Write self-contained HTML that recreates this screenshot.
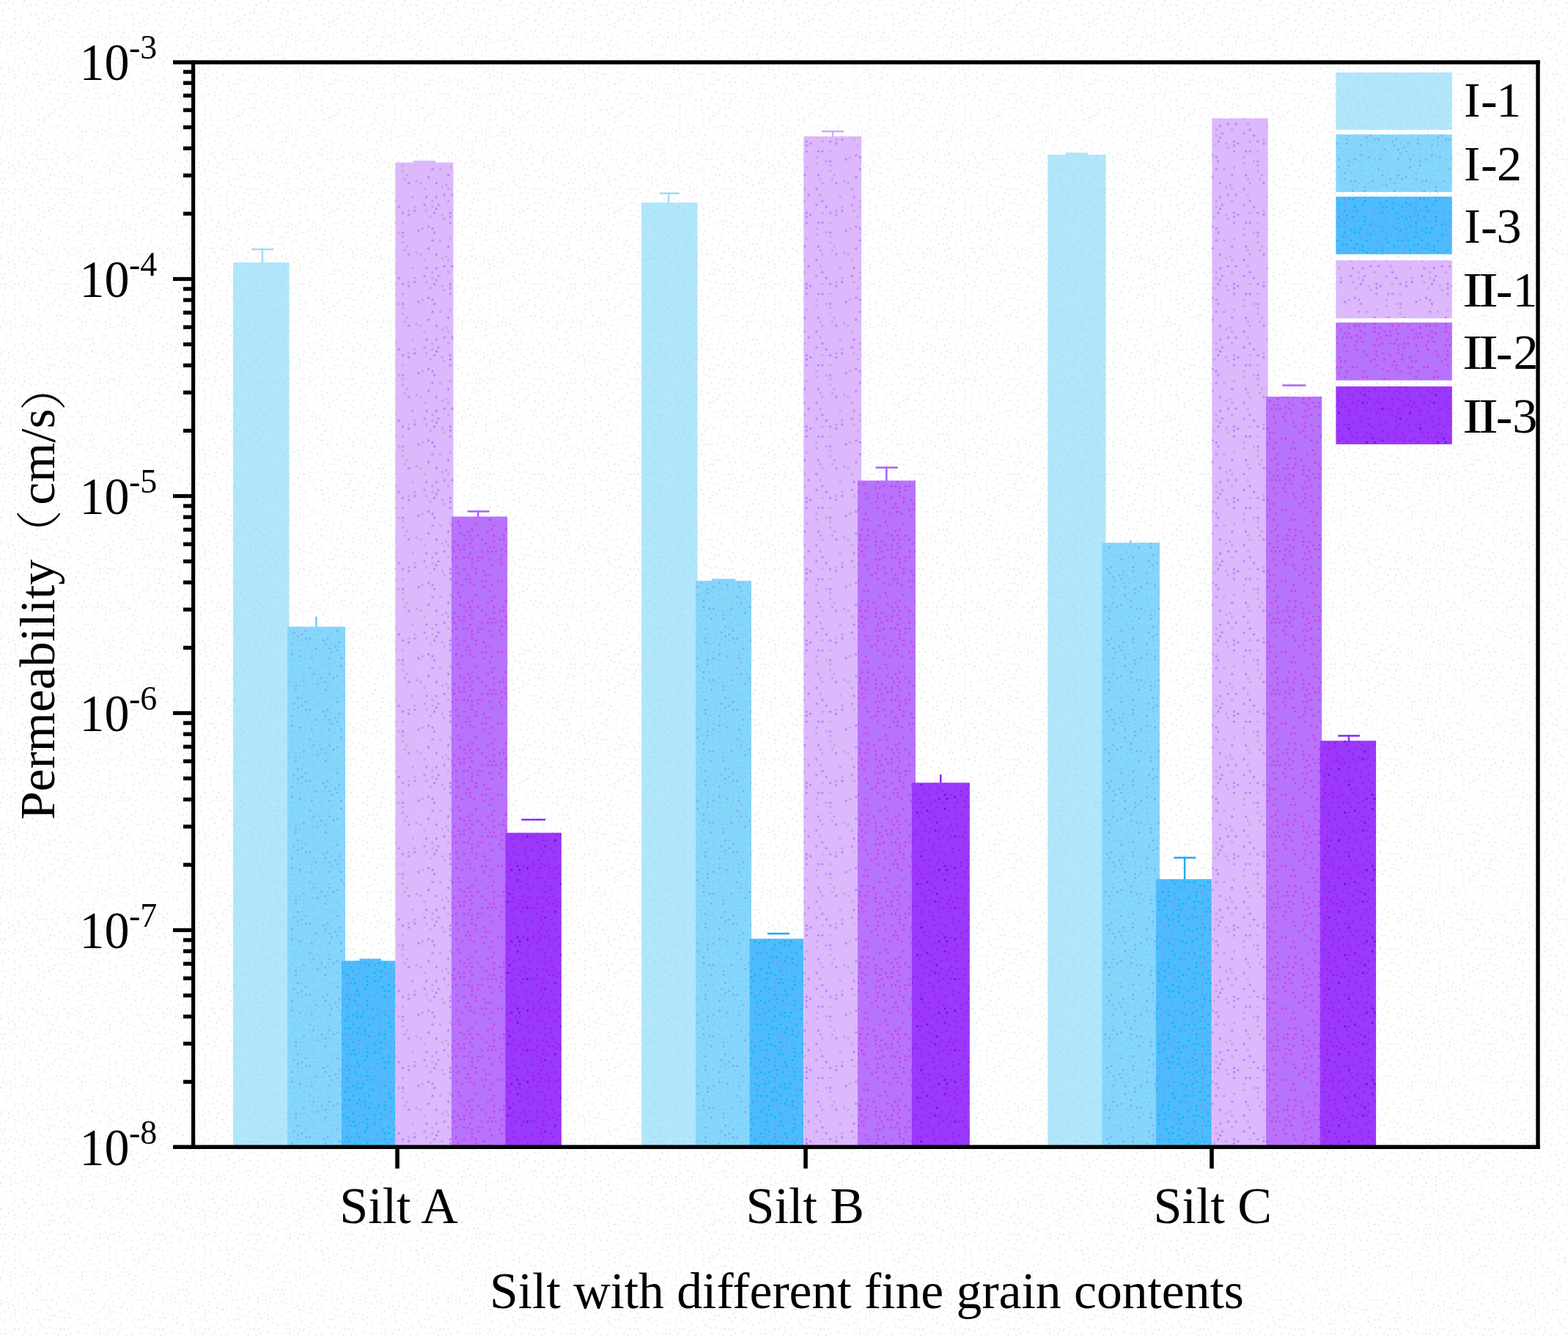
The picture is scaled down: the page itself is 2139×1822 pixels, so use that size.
<!DOCTYPE html>
<html><head><meta charset="utf-8"><title>Permeability of silt with different fine grain contents</title>
<style>
html,body{margin:0;padding:0;background:#fff;}
body{width:2139px;height:1822px;overflow:hidden;}
svg{display:block;}
text{font-family:"Liberation Serif","Noto Serif CJK SC",serif;fill:#000;}
</style></head><body>
<svg width="2139" height="1822" viewBox="0 0 2139 1822">
<defs>
<pattern id="pI1" patternUnits="userSpaceOnUse" width="97.2" height="97.2"><rect width="97.2" height="97.2" fill="#b2e6fc"/><path fill="#a0e2f4" d="M8.1 0h2.7v2.7h-2.7zM21.6 0h2.7v2.7h-2.7zM45.9 0h2.7v2.7h-2.7zM56.7 0h2.7v2.7h-2.7zM29.7 2.7h2.7v2.7h-2.7zM81 2.7h2.7v2.7h-2.7zM5.4 5.4h2.7v2.7h-2.7zM40.5 5.4h2.7v2.7h-2.7zM56.7 5.4h2.7v2.7h-2.7zM64.8 5.4h2.7v2.7h-2.7zM16.2 8.1h2.7v2.7h-2.7zM2.7 10.8h2.7v2.7h-2.7zM45.9 13.5h2.7v2.7h-2.7zM62.1 13.5h2.7v2.7h-2.7zM16.2 16.2h2.7v2.7h-2.7zM37.8 16.2h2.7v2.7h-2.7zM21.6 21.6h2.7v2.7h-2.7zM35.1 21.6h2.7v2.7h-2.7zM86.4 21.6h2.7v2.7h-2.7zM40.5 24.3h2.7v2.7h-2.7zM48.6 24.3h2.7v2.7h-2.7zM64.8 24.3h2.7v2.7h-2.7zM2.7 27h2.7v2.7h-2.7zM24.3 29.7h2.7v2.7h-2.7zM35.1 29.7h2.7v2.7h-2.7zM75.6 29.7h2.7v2.7h-2.7zM86.4 29.7h2.7v2.7h-2.7zM64.8 32.4h2.7v2.7h-2.7zM10.8 35.1h2.7v2.7h-2.7zM21.6 35.1h2.7v2.7h-2.7zM59.4 35.1h2.7v2.7h-2.7zM81 35.1h2.7v2.7h-2.7zM86.4 35.1h2.7v2.7h-2.7zM94.5 35.1h2.7v2.7h-2.7zM40.5 37.8h2.7v2.7h-2.7zM10.8 40.5h2.7v2.7h-2.7zM56.7 40.5h2.7v2.7h-2.7zM67.5 40.5h2.7v2.7h-2.7zM5.4 43.2h2.7v2.7h-2.7zM29.7 43.2h2.7v2.7h-2.7zM62.1 43.2h2.7v2.7h-2.7zM75.6 43.2h2.7v2.7h-2.7zM16.2 45.9h2.7v2.7h-2.7zM35.1 45.9h2.7v2.7h-2.7zM5.4 48.6h2.7v2.7h-2.7zM45.9 48.6h2.7v2.7h-2.7zM64.8 48.6h2.7v2.7h-2.7zM16.2 51.3h2.7v2.7h-2.7zM54 51.3h2.7v2.7h-2.7zM72.9 51.3h2.7v2.7h-2.7zM83.7 51.3h2.7v2.7h-2.7zM8.1 54h2.7v2.7h-2.7zM27 54h2.7v2.7h-2.7zM75.6 56.7h2.7v2.7h-2.7zM89.1 56.7h2.7v2.7h-2.7zM10.8 59.4h2.7v2.7h-2.7zM16.2 59.4h2.7v2.7h-2.7zM32.4 59.4h2.7v2.7h-2.7zM54 59.4h2.7v2.7h-2.7zM5.4 62.1h2.7v2.7h-2.7zM48.6 62.1h2.7v2.7h-2.7zM86.4 62.1h2.7v2.7h-2.7zM37.8 64.8h2.7v2.7h-2.7zM72.9 64.8h2.7v2.7h-2.7zM29.7 67.5h2.7v2.7h-2.7zM48.6 67.5h2.7v2.7h-2.7zM89.1 67.5h2.7v2.7h-2.7zM94.5 67.5h2.7v2.7h-2.7zM5.4 70.2h2.7v2.7h-2.7zM62.1 70.2h2.7v2.7h-2.7zM75.6 70.2h2.7v2.7h-2.7zM16.2 72.9h2.7v2.7h-2.7zM51.3 72.9h2.7v2.7h-2.7zM70.2 72.9h2.7v2.7h-2.7zM83.7 72.9h2.7v2.7h-2.7zM94.5 72.9h2.7v2.7h-2.7zM8.1 75.6h2.7v2.7h-2.7zM21.6 78.3h2.7v2.7h-2.7zM27 78.3h2.7v2.7h-2.7zM67.5 78.3h2.7v2.7h-2.7zM78.3 81h2.7v2.7h-2.7zM10.8 83.7h2.7v2.7h-2.7zM40.5 83.7h2.7v2.7h-2.7zM70.2 83.7h2.7v2.7h-2.7zM83.7 83.7h2.7v2.7h-2.7zM48.6 86.4h2.7v2.7h-2.7zM75.6 86.4h2.7v2.7h-2.7zM10.8 89.1h2.7v2.7h-2.7zM24.3 89.1h2.7v2.7h-2.7zM56.7 89.1h2.7v2.7h-2.7zM91.8 89.1h2.7v2.7h-2.7zM16.2 91.8h2.7v2.7h-2.7zM32.4 91.8h2.7v2.7h-2.7zM64.8 91.8h2.7v2.7h-2.7zM75.6 91.8h2.7v2.7h-2.7zM83.7 91.8h2.7v2.7h-2.7zM89.1 94.5h2.7v2.7h-2.7z"/><path fill="#b0e4ee" d="M51.3 2.7h2.7v2.7h-2.7zM70.2 2.7h2.7v2.7h-2.7zM75.6 2.7h2.7v2.7h-2.7zM89.1 5.4h2.7v2.7h-2.7zM21.6 8.1h2.7v2.7h-2.7zM35.1 10.8h2.7v2.7h-2.7zM75.6 10.8h2.7v2.7h-2.7zM27 13.5h2.7v2.7h-2.7zM81 13.5h2.7v2.7h-2.7zM32.4 16.2h2.7v2.7h-2.7zM75.6 16.2h2.7v2.7h-2.7zM5.4 18.9h2.7v2.7h-2.7zM48.6 18.9h2.7v2.7h-2.7zM59.4 18.9h2.7v2.7h-2.7zM16.2 21.6h2.7v2.7h-2.7zM70.2 21.6h2.7v2.7h-2.7zM81 21.6h2.7v2.7h-2.7zM29.7 24.3h2.7v2.7h-2.7zM54 24.3h2.7v2.7h-2.7zM75.6 24.3h2.7v2.7h-2.7zM18.9 27h2.7v2.7h-2.7zM54 29.7h2.7v2.7h-2.7zM29.7 32.4h2.7v2.7h-2.7zM70.2 32.4h2.7v2.7h-2.7zM45.9 35.1h2.7v2.7h-2.7zM0 40.5h2.7v2.7h-2.7zM91.8 40.5h2.7v2.7h-2.7zM48.6 43.2h2.7v2.7h-2.7zM83.7 43.2h2.7v2.7h-2.7zM21.6 45.9h2.7v2.7h-2.7zM40.5 45.9h2.7v2.7h-2.7zM29.7 48.6h2.7v2.7h-2.7zM91.8 48.6h2.7v2.7h-2.7zM59.4 51.3h2.7v2.7h-2.7zM45.9 54h2.7v2.7h-2.7zM64.8 56.7h2.7v2.7h-2.7zM0 59.4h2.7v2.7h-2.7zM21.6 59.4h2.7v2.7h-2.7zM81 59.4h2.7v2.7h-2.7zM27 62.1h2.7v2.7h-2.7zM67.5 62.1h2.7v2.7h-2.7zM43.2 64.8h2.7v2.7h-2.7zM62.1 64.8h2.7v2.7h-2.7zM56.7 67.5h2.7v2.7h-2.7zM81 67.5h2.7v2.7h-2.7zM21.6 70.2h2.7v2.7h-2.7zM37.8 75.6h2.7v2.7h-2.7zM45.9 75.6h2.7v2.7h-2.7zM78.3 75.6h2.7v2.7h-2.7zM54 78.3h2.7v2.7h-2.7zM59.4 78.3h2.7v2.7h-2.7zM32.4 81h2.7v2.7h-2.7zM91.8 81h2.7v2.7h-2.7zM0 83.7h2.7v2.7h-2.7zM5.4 83.7h2.7v2.7h-2.7zM24.3 83.7h2.7v2.7h-2.7zM35.1 86.4h2.7v2.7h-2.7zM48.6 91.8h2.7v2.7h-2.7zM27 94.5h2.7v2.7h-2.7z"/></pattern>
<pattern id="pI2" patternUnits="userSpaceOnUse" width="97.2" height="97.2"><rect width="97.2" height="97.2" fill="#86d6fc"/><path fill="#7eaaf6" d="M72.9 0h2.7v2.7h-2.7zM86.4 0h2.7v2.7h-2.7zM8.1 2.7h2.7v2.7h-2.7zM54 2.7h2.7v2.7h-2.7zM67.5 5.4h2.7v2.7h-2.7zM40.5 8.1h2.7v2.7h-2.7zM59.4 8.1h2.7v2.7h-2.7zM70.2 10.8h2.7v2.7h-2.7zM62.1 13.5h2.7v2.7h-2.7zM8.1 16.2h2.7v2.7h-2.7zM18.9 18.9h2.7v2.7h-2.7zM0 21.6h2.7v2.7h-2.7zM35.1 21.6h2.7v2.7h-2.7zM59.4 21.6h2.7v2.7h-2.7zM75.6 21.6h2.7v2.7h-2.7zM89.1 24.3h2.7v2.7h-2.7zM89.1 29.7h2.7v2.7h-2.7zM75.6 32.4h2.7v2.7h-2.7zM32.4 35.1h2.7v2.7h-2.7zM83.7 40.5h2.7v2.7h-2.7zM37.8 43.2h2.7v2.7h-2.7zM59.4 43.2h2.7v2.7h-2.7zM70.2 45.9h2.7v2.7h-2.7zM48.6 48.6h2.7v2.7h-2.7zM64.8 48.6h2.7v2.7h-2.7zM83.7 48.6h2.7v2.7h-2.7zM0 51.3h2.7v2.7h-2.7zM24.3 51.3h2.7v2.7h-2.7zM91.8 51.3h2.7v2.7h-2.7zM54 54h2.7v2.7h-2.7zM43.2 56.7h2.7v2.7h-2.7zM13.5 59.4h2.7v2.7h-2.7zM13.5 64.8h2.7v2.7h-2.7zM54 64.8h2.7v2.7h-2.7zM94.5 64.8h2.7v2.7h-2.7zM16.2 75.6h2.7v2.7h-2.7zM86.4 78.3h2.7v2.7h-2.7zM27 81h2.7v2.7h-2.7zM70.2 81h2.7v2.7h-2.7zM10.8 83.7h2.7v2.7h-2.7zM21.6 86.4h2.7v2.7h-2.7zM16.2 89.1h2.7v2.7h-2.7zM27 91.8h2.7v2.7h-2.7zM32.4 91.8h2.7v2.7h-2.7zM56.7 91.8h2.7v2.7h-2.7zM86.4 91.8h2.7v2.7h-2.7zM51.3 94.5h2.7v2.7h-2.7z"/><path fill="#70d2f2" d="M0 0h2.7v2.7h-2.7zM29.7 0h2.7v2.7h-2.7zM62.1 0h2.7v2.7h-2.7zM16.2 2.7h2.7v2.7h-2.7zM37.8 2.7h2.7v2.7h-2.7zM91.8 2.7h2.7v2.7h-2.7zM72.9 5.4h2.7v2.7h-2.7zM78.3 5.4h2.7v2.7h-2.7zM51.3 8.1h2.7v2.7h-2.7zM89.1 8.1h2.7v2.7h-2.7zM8.1 10.8h2.7v2.7h-2.7zM18.9 10.8h2.7v2.7h-2.7zM27 10.8h2.7v2.7h-2.7zM35.1 10.8h2.7v2.7h-2.7zM45.9 10.8h2.7v2.7h-2.7zM81 10.8h2.7v2.7h-2.7zM0 13.5h2.7v2.7h-2.7zM89.1 13.5h2.7v2.7h-2.7zM13.5 16.2h2.7v2.7h-2.7zM35.1 16.2h2.7v2.7h-2.7zM40.5 16.2h2.7v2.7h-2.7zM72.9 16.2h2.7v2.7h-2.7zM81 16.2h2.7v2.7h-2.7zM27 21.6h2.7v2.7h-2.7zM5.4 24.3h2.7v2.7h-2.7zM10.8 24.3h2.7v2.7h-2.7zM18.9 24.3h2.7v2.7h-2.7zM45.9 24.3h2.7v2.7h-2.7zM37.8 27h2.7v2.7h-2.7zM67.5 27h2.7v2.7h-2.7zM94.5 27h2.7v2.7h-2.7zM24.3 29.7h2.7v2.7h-2.7zM48.6 29.7h2.7v2.7h-2.7zM62.1 29.7h2.7v2.7h-2.7zM81 29.7h2.7v2.7h-2.7zM8.1 32.4h2.7v2.7h-2.7zM56.7 32.4h2.7v2.7h-2.7zM0 35.1h2.7v2.7h-2.7zM18.9 35.1h2.7v2.7h-2.7zM86.4 35.1h2.7v2.7h-2.7zM8.1 37.8h2.7v2.7h-2.7zM13.5 37.8h2.7v2.7h-2.7zM37.8 37.8h2.7v2.7h-2.7zM43.2 37.8h2.7v2.7h-2.7zM59.4 37.8h2.7v2.7h-2.7zM78.3 37.8h2.7v2.7h-2.7zM91.8 40.5h2.7v2.7h-2.7zM10.8 43.2h2.7v2.7h-2.7zM24.3 43.2h2.7v2.7h-2.7zM32.4 43.2h2.7v2.7h-2.7zM45.9 43.2h2.7v2.7h-2.7zM8.1 48.6h2.7v2.7h-2.7zM35.1 48.6h2.7v2.7h-2.7zM56.7 48.6h2.7v2.7h-2.7zM43.2 51.3h2.7v2.7h-2.7zM5.4 54h2.7v2.7h-2.7zM13.5 54h2.7v2.7h-2.7zM18.9 54h2.7v2.7h-2.7zM48.6 54h2.7v2.7h-2.7zM59.4 54h2.7v2.7h-2.7zM78.3 54h2.7v2.7h-2.7zM83.7 54h2.7v2.7h-2.7zM37.8 56.7h2.7v2.7h-2.7zM94.5 56.7h2.7v2.7h-2.7zM2.7 59.4h2.7v2.7h-2.7zM18.9 59.4h2.7v2.7h-2.7zM24.3 59.4h2.7v2.7h-2.7zM56.7 59.4h2.7v2.7h-2.7zM29.7 62.1h2.7v2.7h-2.7zM70.2 62.1h2.7v2.7h-2.7zM81 62.1h2.7v2.7h-2.7zM89.1 62.1h2.7v2.7h-2.7zM35.1 67.5h2.7v2.7h-2.7zM75.6 67.5h2.7v2.7h-2.7zM83.7 67.5h2.7v2.7h-2.7zM24.3 70.2h2.7v2.7h-2.7zM48.6 70.2h2.7v2.7h-2.7zM32.4 72.9h2.7v2.7h-2.7zM37.8 72.9h2.7v2.7h-2.7zM54 72.9h2.7v2.7h-2.7zM78.3 72.9h2.7v2.7h-2.7zM21.6 75.6h2.7v2.7h-2.7zM59.4 75.6h2.7v2.7h-2.7zM64.8 75.6h2.7v2.7h-2.7zM70.2 75.6h2.7v2.7h-2.7zM0 78.3h2.7v2.7h-2.7zM81 78.3h2.7v2.7h-2.7zM43.2 81h2.7v2.7h-2.7zM48.6 81h2.7v2.7h-2.7zM81 83.7h2.7v2.7h-2.7zM2.7 86.4h2.7v2.7h-2.7zM37.8 86.4h2.7v2.7h-2.7zM43.2 86.4h2.7v2.7h-2.7zM62.1 86.4h2.7v2.7h-2.7zM89.1 86.4h2.7v2.7h-2.7zM10.8 91.8h2.7v2.7h-2.7zM16.2 94.5h2.7v2.7h-2.7zM21.6 94.5h2.7v2.7h-2.7z"/><path fill="#8cd2ee" d="M43.2 0h2.7v2.7h-2.7zM78.3 0h2.7v2.7h-2.7zM0 8.1h2.7v2.7h-2.7zM13.5 8.1h2.7v2.7h-2.7zM27 16.2h2.7v2.7h-2.7zM48.6 18.9h2.7v2.7h-2.7zM24.3 35.1h2.7v2.7h-2.7zM67.5 35.1h2.7v2.7h-2.7zM18.9 40.5h2.7v2.7h-2.7zM67.5 40.5h2.7v2.7h-2.7zM0 43.2h2.7v2.7h-2.7zM18.9 45.9h2.7v2.7h-2.7zM78.3 45.9h2.7v2.7h-2.7zM89.1 45.9h2.7v2.7h-2.7zM70.2 54h2.7v2.7h-2.7zM48.6 62.1h2.7v2.7h-2.7zM64.8 62.1h2.7v2.7h-2.7zM5.4 67.5h2.7v2.7h-2.7zM40.5 67.5h2.7v2.7h-2.7zM62.1 67.5h2.7v2.7h-2.7zM89.1 72.9h2.7v2.7h-2.7zM8.1 75.6h2.7v2.7h-2.7zM16.2 81h2.7v2.7h-2.7zM35.1 81h2.7v2.7h-2.7zM75.6 83.7h2.7v2.7h-2.7zM54 86.4h2.7v2.7h-2.7zM78.3 89.1h2.7v2.7h-2.7zM2.7 91.8h2.7v2.7h-2.7zM40.5 91.8h2.7v2.7h-2.7zM45.9 91.8h2.7v2.7h-2.7z"/></pattern>
<pattern id="pI3" patternUnits="userSpaceOnUse" width="97.2" height="97.2"><rect width="97.2" height="97.2" fill="#4cbcfc"/><path fill="#6a9ef6" d="M81 0h2.7v2.7h-2.7zM40.5 2.7h2.7v2.7h-2.7zM86.4 5.4h2.7v2.7h-2.7zM0 8.1h2.7v2.7h-2.7zM5.4 8.1h2.7v2.7h-2.7zM24.3 8.1h2.7v2.7h-2.7zM32.4 8.1h2.7v2.7h-2.7zM43.2 8.1h2.7v2.7h-2.7zM78.3 8.1h2.7v2.7h-2.7zM59.4 10.8h2.7v2.7h-2.7zM72.9 10.8h2.7v2.7h-2.7zM13.5 13.5h2.7v2.7h-2.7zM27 13.5h2.7v2.7h-2.7zM67.5 13.5h2.7v2.7h-2.7zM32.4 16.2h2.7v2.7h-2.7zM37.8 16.2h2.7v2.7h-2.7zM45.9 16.2h2.7v2.7h-2.7zM51.3 16.2h2.7v2.7h-2.7zM83.7 16.2h2.7v2.7h-2.7zM27 21.6h2.7v2.7h-2.7zM43.2 24.3h2.7v2.7h-2.7zM70.2 24.3h2.7v2.7h-2.7zM16.2 27h2.7v2.7h-2.7zM29.7 27h2.7v2.7h-2.7zM48.6 27h2.7v2.7h-2.7zM59.4 27h2.7v2.7h-2.7zM70.2 29.7h2.7v2.7h-2.7zM86.4 29.7h2.7v2.7h-2.7zM8.1 32.4h2.7v2.7h-2.7zM32.4 35.1h2.7v2.7h-2.7zM32.4 40.5h2.7v2.7h-2.7zM37.8 43.2h2.7v2.7h-2.7zM59.4 43.2h2.7v2.7h-2.7zM70.2 43.2h2.7v2.7h-2.7zM18.9 45.9h2.7v2.7h-2.7zM91.8 45.9h2.7v2.7h-2.7zM5.4 48.6h2.7v2.7h-2.7zM81 48.6h2.7v2.7h-2.7zM86.4 48.6h2.7v2.7h-2.7zM24.3 51.3h2.7v2.7h-2.7zM45.9 51.3h2.7v2.7h-2.7zM67.5 51.3h2.7v2.7h-2.7zM89.1 54h2.7v2.7h-2.7zM2.7 56.7h2.7v2.7h-2.7zM27 56.7h2.7v2.7h-2.7zM45.9 56.7h2.7v2.7h-2.7zM2.7 62.1h2.7v2.7h-2.7zM10.8 62.1h2.7v2.7h-2.7zM37.8 62.1h2.7v2.7h-2.7zM43.2 62.1h2.7v2.7h-2.7zM62.1 64.8h2.7v2.7h-2.7zM94.5 64.8h2.7v2.7h-2.7zM24.3 67.5h2.7v2.7h-2.7zM45.9 67.5h2.7v2.7h-2.7zM8.1 70.2h2.7v2.7h-2.7zM67.5 70.2h2.7v2.7h-2.7zM86.4 70.2h2.7v2.7h-2.7zM2.7 72.9h2.7v2.7h-2.7zM29.7 72.9h2.7v2.7h-2.7zM48.6 72.9h2.7v2.7h-2.7zM18.9 75.6h2.7v2.7h-2.7zM72.9 75.6h2.7v2.7h-2.7zM83.7 75.6h2.7v2.7h-2.7zM83.7 81h2.7v2.7h-2.7zM59.4 83.7h2.7v2.7h-2.7zM70.2 86.4h2.7v2.7h-2.7zM83.7 86.4h2.7v2.7h-2.7zM27 89.1h2.7v2.7h-2.7zM75.6 89.1h2.7v2.7h-2.7zM62.1 91.8h2.7v2.7h-2.7zM70.2 91.8h2.7v2.7h-2.7zM89.1 91.8h2.7v2.7h-2.7zM94.5 91.8h2.7v2.7h-2.7zM10.8 94.5h2.7v2.7h-2.7zM16.2 94.5h2.7v2.7h-2.7zM24.3 94.5h2.7v2.7h-2.7zM32.4 94.5h2.7v2.7h-2.7zM45.9 94.5h2.7v2.7h-2.7z"/><path fill="#1cb0f2" d="M86.4 0h2.7v2.7h-2.7zM13.5 2.7h2.7v2.7h-2.7zM64.8 2.7h2.7v2.7h-2.7zM75.6 2.7h2.7v2.7h-2.7zM94.5 2.7h2.7v2.7h-2.7zM59.4 5.4h2.7v2.7h-2.7zM70.2 5.4h2.7v2.7h-2.7zM13.5 8.1h2.7v2.7h-2.7zM83.7 10.8h2.7v2.7h-2.7zM21.6 13.5h2.7v2.7h-2.7zM75.6 16.2h2.7v2.7h-2.7zM0 18.9h2.7v2.7h-2.7zM8.1 18.9h2.7v2.7h-2.7zM56.7 18.9h2.7v2.7h-2.7zM70.2 18.9h2.7v2.7h-2.7zM37.8 21.6h2.7v2.7h-2.7zM62.1 21.6h2.7v2.7h-2.7zM91.8 21.6h2.7v2.7h-2.7zM0 24.3h2.7v2.7h-2.7zM5.4 24.3h2.7v2.7h-2.7zM83.7 24.3h2.7v2.7h-2.7zM21.6 27h2.7v2.7h-2.7zM81 29.7h2.7v2.7h-2.7zM43.2 32.4h2.7v2.7h-2.7zM16.2 35.1h2.7v2.7h-2.7zM59.4 35.1h2.7v2.7h-2.7zM64.8 35.1h2.7v2.7h-2.7zM72.9 35.1h2.7v2.7h-2.7zM91.8 35.1h2.7v2.7h-2.7zM45.9 37.8h2.7v2.7h-2.7zM2.7 40.5h2.7v2.7h-2.7zM81 40.5h2.7v2.7h-2.7zM86.4 40.5h2.7v2.7h-2.7zM10.8 43.2h2.7v2.7h-2.7zM54 43.2h2.7v2.7h-2.7zM0 45.9h2.7v2.7h-2.7zM10.8 48.6h2.7v2.7h-2.7zM29.7 48.6h2.7v2.7h-2.7zM37.8 48.6h2.7v2.7h-2.7zM75.6 48.6h2.7v2.7h-2.7zM16.2 51.3h2.7v2.7h-2.7zM37.8 54h2.7v2.7h-2.7zM75.6 54h2.7v2.7h-2.7zM64.8 56.7h2.7v2.7h-2.7zM32.4 59.4h2.7v2.7h-2.7zM51.3 59.4h2.7v2.7h-2.7zM91.8 59.4h2.7v2.7h-2.7zM24.3 62.1h2.7v2.7h-2.7zM72.9 62.1h2.7v2.7h-2.7zM78.3 62.1h2.7v2.7h-2.7zM56.7 64.8h2.7v2.7h-2.7zM83.7 64.8h2.7v2.7h-2.7zM13.5 67.5h2.7v2.7h-2.7zM32.4 67.5h2.7v2.7h-2.7zM51.3 67.5h2.7v2.7h-2.7zM72.9 70.2h2.7v2.7h-2.7zM91.8 70.2h2.7v2.7h-2.7zM13.5 72.9h2.7v2.7h-2.7zM24.3 72.9h2.7v2.7h-2.7zM54 72.9h2.7v2.7h-2.7zM89.1 75.6h2.7v2.7h-2.7zM94.5 75.6h2.7v2.7h-2.7zM13.5 78.3h2.7v2.7h-2.7zM43.2 78.3h2.7v2.7h-2.7zM35.1 81h2.7v2.7h-2.7zM51.3 81h2.7v2.7h-2.7zM70.2 81h2.7v2.7h-2.7zM10.8 83.7h2.7v2.7h-2.7zM75.6 83.7h2.7v2.7h-2.7zM0 86.4h2.7v2.7h-2.7zM37.8 86.4h2.7v2.7h-2.7zM43.2 86.4h2.7v2.7h-2.7zM64.8 86.4h2.7v2.7h-2.7zM51.3 89.1h2.7v2.7h-2.7zM2.7 91.8h2.7v2.7h-2.7zM83.7 91.8h2.7v2.7h-2.7zM37.8 94.5h2.7v2.7h-2.7zM56.7 94.5h2.7v2.7h-2.7z"/></pattern>
<pattern id="pII1" patternUnits="userSpaceOnUse" width="97.2" height="97.2"><rect width="97.2" height="97.2" fill="#dcb8fc"/><path fill="#b47cfc" d="M35.1 0h2.7v2.7h-2.7zM70.2 0h2.7v2.7h-2.7zM29.7 2.7h2.7v2.7h-2.7zM29.7 10.8h2.7v2.7h-2.7zM45.9 10.8h2.7v2.7h-2.7zM51.3 10.8h2.7v2.7h-2.7zM0 16.2h2.7v2.7h-2.7zM5.4 18.9h2.7v2.7h-2.7zM83.7 21.6h2.7v2.7h-2.7zM8.1 24.3h2.7v2.7h-2.7zM62.1 24.3h2.7v2.7h-2.7zM5.4 35.1h2.7v2.7h-2.7zM27 43.2h2.7v2.7h-2.7zM45.9 43.2h2.7v2.7h-2.7zM0 45.9h2.7v2.7h-2.7zM10.8 54h2.7v2.7h-2.7zM70.2 54h2.7v2.7h-2.7zM43.2 62.1h2.7v2.7h-2.7zM21.6 70.2h2.7v2.7h-2.7zM32.4 70.2h2.7v2.7h-2.7zM10.8 72.9h2.7v2.7h-2.7zM94.5 72.9h2.7v2.7h-2.7zM51.3 78.3h2.7v2.7h-2.7zM13.5 83.7h2.7v2.7h-2.7zM43.2 83.7h2.7v2.7h-2.7zM91.8 83.7h2.7v2.7h-2.7zM56.7 86.4h2.7v2.7h-2.7zM10.8 89.1h2.7v2.7h-2.7zM78.3 91.8h2.7v2.7h-2.7zM8.1 94.5h2.7v2.7h-2.7zM29.7 94.5h2.7v2.7h-2.7zM62.1 94.5h2.7v2.7h-2.7z"/><path fill="#b2a8c6" d="M18.9 0h2.7v2.7h-2.7zM2.7 2.7h2.7v2.7h-2.7zM21.6 5.4h2.7v2.7h-2.7zM62.1 10.8h2.7v2.7h-2.7zM43.2 18.9h2.7v2.7h-2.7zM89.1 18.9h2.7v2.7h-2.7zM56.7 24.3h2.7v2.7h-2.7zM43.2 27h2.7v2.7h-2.7zM62.1 29.7h2.7v2.7h-2.7zM29.7 32.4h2.7v2.7h-2.7zM16.2 35.1h2.7v2.7h-2.7zM62.1 37.8h2.7v2.7h-2.7zM67.5 43.2h2.7v2.7h-2.7zM48.6 48.6h2.7v2.7h-2.7zM64.8 48.6h2.7v2.7h-2.7zM81 51.3h2.7v2.7h-2.7zM51.3 54h2.7v2.7h-2.7zM86.4 54h2.7v2.7h-2.7zM24.3 56.7h2.7v2.7h-2.7zM18.9 59.4h2.7v2.7h-2.7zM27 62.1h2.7v2.7h-2.7zM91.8 62.1h2.7v2.7h-2.7zM48.6 70.2h2.7v2.7h-2.7zM75.6 72.9h2.7v2.7h-2.7zM5.4 78.3h2.7v2.7h-2.7zM27 78.3h2.7v2.7h-2.7zM5.4 86.4h2.7v2.7h-2.7zM78.3 86.4h2.7v2.7h-2.7zM70.2 91.8h2.7v2.7h-2.7zM94.5 91.8h2.7v2.7h-2.7zM51.3 94.5h2.7v2.7h-2.7z"/><path fill="#f2b4f8" d="M91.8 2.7h2.7v2.7h-2.7zM56.7 18.9h2.7v2.7h-2.7zM0 32.4h2.7v2.7h-2.7zM51.3 32.4h2.7v2.7h-2.7zM83.7 32.4h2.7v2.7h-2.7zM75.6 35.1h2.7v2.7h-2.7zM89.1 37.8h2.7v2.7h-2.7zM35.1 43.2h2.7v2.7h-2.7zM75.6 59.4h2.7v2.7h-2.7zM59.4 67.5h2.7v2.7h-2.7zM89.1 67.5h2.7v2.7h-2.7zM81 72.9h2.7v2.7h-2.7zM0 81h2.7v2.7h-2.7zM21.6 83.7h2.7v2.7h-2.7zM86.4 89.1h2.7v2.7h-2.7z"/></pattern>
<pattern id="pII2" patternUnits="userSpaceOnUse" width="97.2" height="97.2"><rect width="97.2" height="97.2" fill="#b872fc"/><path fill="#c446e2" d="M75.6 0h2.7v2.7h-2.7zM27 2.7h2.7v2.7h-2.7zM40.5 2.7h2.7v2.7h-2.7zM64.8 2.7h2.7v2.7h-2.7zM21.6 5.4h2.7v2.7h-2.7zM54 5.4h2.7v2.7h-2.7zM78.3 5.4h2.7v2.7h-2.7zM83.7 5.4h2.7v2.7h-2.7zM29.7 10.8h2.7v2.7h-2.7zM51.3 10.8h2.7v2.7h-2.7zM56.7 10.8h2.7v2.7h-2.7zM2.7 13.5h2.7v2.7h-2.7zM72.9 13.5h2.7v2.7h-2.7zM78.3 13.5h2.7v2.7h-2.7zM94.5 13.5h2.7v2.7h-2.7zM37.8 16.2h2.7v2.7h-2.7zM56.7 16.2h2.7v2.7h-2.7zM13.5 18.9h2.7v2.7h-2.7zM45.9 18.9h2.7v2.7h-2.7zM62.1 18.9h2.7v2.7h-2.7zM86.4 18.9h2.7v2.7h-2.7zM75.6 21.6h2.7v2.7h-2.7zM10.8 27h2.7v2.7h-2.7zM16.2 27h2.7v2.7h-2.7zM83.7 27h2.7v2.7h-2.7zM40.5 29.7h2.7v2.7h-2.7zM64.8 32.4h2.7v2.7h-2.7zM32.4 35.1h2.7v2.7h-2.7zM43.2 35.1h2.7v2.7h-2.7zM89.1 35.1h2.7v2.7h-2.7zM8.1 40.5h2.7v2.7h-2.7zM16.2 40.5h2.7v2.7h-2.7zM59.4 40.5h2.7v2.7h-2.7zM86.4 40.5h2.7v2.7h-2.7zM24.3 43.2h2.7v2.7h-2.7zM54 43.2h2.7v2.7h-2.7zM81 43.2h2.7v2.7h-2.7zM43.2 45.9h2.7v2.7h-2.7zM5.4 48.6h2.7v2.7h-2.7zM16.2 48.6h2.7v2.7h-2.7zM48.6 48.6h2.7v2.7h-2.7zM56.7 48.6h2.7v2.7h-2.7zM67.5 48.6h2.7v2.7h-2.7zM89.1 48.6h2.7v2.7h-2.7zM27 51.3h2.7v2.7h-2.7zM0 54h2.7v2.7h-2.7zM5.4 54h2.7v2.7h-2.7zM13.5 54h2.7v2.7h-2.7zM51.3 54h2.7v2.7h-2.7zM59.4 54h2.7v2.7h-2.7zM72.9 54h2.7v2.7h-2.7zM27 56.7h2.7v2.7h-2.7zM35.1 56.7h2.7v2.7h-2.7zM89.1 56.7h2.7v2.7h-2.7zM56.7 59.4h2.7v2.7h-2.7zM78.3 59.4h2.7v2.7h-2.7zM8.1 62.1h2.7v2.7h-2.7zM27 62.1h2.7v2.7h-2.7zM40.5 62.1h2.7v2.7h-2.7zM48.6 62.1h2.7v2.7h-2.7zM13.5 64.8h2.7v2.7h-2.7zM32.4 64.8h2.7v2.7h-2.7zM59.4 64.8h2.7v2.7h-2.7zM83.7 64.8h2.7v2.7h-2.7zM89.1 64.8h2.7v2.7h-2.7zM2.7 67.5h2.7v2.7h-2.7zM43.2 67.5h2.7v2.7h-2.7zM48.6 67.5h2.7v2.7h-2.7zM8.1 70.2h2.7v2.7h-2.7zM35.1 70.2h2.7v2.7h-2.7zM72.9 70.2h2.7v2.7h-2.7zM81 70.2h2.7v2.7h-2.7zM86.4 70.2h2.7v2.7h-2.7zM91.8 70.2h2.7v2.7h-2.7zM29.7 72.9h2.7v2.7h-2.7zM56.7 72.9h2.7v2.7h-2.7zM2.7 75.6h2.7v2.7h-2.7zM10.8 75.6h2.7v2.7h-2.7zM37.8 78.3h2.7v2.7h-2.7zM48.6 78.3h2.7v2.7h-2.7zM54 78.3h2.7v2.7h-2.7zM67.5 78.3h2.7v2.7h-2.7zM72.9 78.3h2.7v2.7h-2.7zM0 81h2.7v2.7h-2.7zM27 81h2.7v2.7h-2.7zM32.4 81h2.7v2.7h-2.7zM59.4 81h2.7v2.7h-2.7zM83.7 81h2.7v2.7h-2.7zM67.5 83.7h2.7v2.7h-2.7zM2.7 86.4h2.7v2.7h-2.7zM59.4 86.4h2.7v2.7h-2.7zM13.5 89.1h2.7v2.7h-2.7zM29.7 89.1h2.7v2.7h-2.7zM86.4 89.1h2.7v2.7h-2.7zM37.8 91.8h2.7v2.7h-2.7zM59.4 91.8h2.7v2.7h-2.7zM16.2 94.5h2.7v2.7h-2.7zM29.7 94.5h2.7v2.7h-2.7zM48.6 94.5h2.7v2.7h-2.7zM64.8 94.5h2.7v2.7h-2.7z"/><path fill="#a47efc" d="M10.8 0h2.7v2.7h-2.7zM35.1 0h2.7v2.7h-2.7zM70.2 0h2.7v2.7h-2.7zM2.7 2.7h2.7v2.7h-2.7zM16.2 2.7h2.7v2.7h-2.7zM94.5 2.7h2.7v2.7h-2.7zM10.8 5.4h2.7v2.7h-2.7zM72.9 5.4h2.7v2.7h-2.7zM89.1 5.4h2.7v2.7h-2.7zM2.7 8.1h2.7v2.7h-2.7zM43.2 8.1h2.7v2.7h-2.7zM13.5 10.8h2.7v2.7h-2.7zM67.5 10.8h2.7v2.7h-2.7zM83.7 10.8h2.7v2.7h-2.7zM24.3 16.2h2.7v2.7h-2.7zM32.4 16.2h2.7v2.7h-2.7zM5.4 18.9h2.7v2.7h-2.7zM51.3 18.9h2.7v2.7h-2.7zM67.5 18.9h2.7v2.7h-2.7zM81 18.9h2.7v2.7h-2.7zM24.3 21.6h2.7v2.7h-2.7zM29.7 21.6h2.7v2.7h-2.7zM54 24.3h2.7v2.7h-2.7zM91.8 24.3h2.7v2.7h-2.7zM21.6 27h2.7v2.7h-2.7zM70.2 27h2.7v2.7h-2.7zM0 29.7h2.7v2.7h-2.7zM32.4 29.7h2.7v2.7h-2.7zM75.6 29.7h2.7v2.7h-2.7zM89.1 29.7h2.7v2.7h-2.7zM24.3 32.4h2.7v2.7h-2.7zM56.7 32.4h2.7v2.7h-2.7zM83.7 32.4h2.7v2.7h-2.7zM72.9 35.1h2.7v2.7h-2.7zM21.6 37.8h2.7v2.7h-2.7zM48.6 40.5h2.7v2.7h-2.7zM64.8 40.5h2.7v2.7h-2.7zM2.7 43.2h2.7v2.7h-2.7zM35.1 43.2h2.7v2.7h-2.7zM72.9 43.2h2.7v2.7h-2.7zM94.5 48.6h2.7v2.7h-2.7zM37.8 51.3h2.7v2.7h-2.7zM43.2 54h2.7v2.7h-2.7zM81 54h2.7v2.7h-2.7zM67.5 56.7h2.7v2.7h-2.7zM2.7 59.4h2.7v2.7h-2.7zM21.6 59.4h2.7v2.7h-2.7zM70.2 64.8h2.7v2.7h-2.7zM78.3 64.8h2.7v2.7h-2.7zM21.6 67.5h2.7v2.7h-2.7zM54 67.5h2.7v2.7h-2.7zM16.2 70.2h2.7v2.7h-2.7zM48.6 72.9h2.7v2.7h-2.7zM64.8 72.9h2.7v2.7h-2.7zM18.9 75.6h2.7v2.7h-2.7zM91.8 75.6h2.7v2.7h-2.7zM43.2 78.3h2.7v2.7h-2.7zM78.3 78.3h2.7v2.7h-2.7zM16.2 81h2.7v2.7h-2.7zM48.6 83.7h2.7v2.7h-2.7zM35.1 86.4h2.7v2.7h-2.7zM43.2 86.4h2.7v2.7h-2.7zM8.1 89.1h2.7v2.7h-2.7zM67.5 89.1h2.7v2.7h-2.7zM21.6 91.8h2.7v2.7h-2.7zM43.2 91.8h2.7v2.7h-2.7zM72.9 91.8h2.7v2.7h-2.7zM78.3 91.8h2.7v2.7h-2.7z"/></pattern>
<pattern id="pII3" patternUnits="userSpaceOnUse" width="97.2" height="97.2"><rect width="97.2" height="97.2" fill="#9a38fe"/><path fill="#a222d2" d="M56.7 0h2.7v2.7h-2.7zM37.8 2.7h2.7v2.7h-2.7zM75.6 2.7h2.7v2.7h-2.7zM2.7 5.4h2.7v2.7h-2.7zM16.2 5.4h2.7v2.7h-2.7zM54 5.4h2.7v2.7h-2.7zM64.8 5.4h2.7v2.7h-2.7zM91.8 5.4h2.7v2.7h-2.7zM21.6 8.1h2.7v2.7h-2.7zM45.9 8.1h2.7v2.7h-2.7zM13.5 10.8h2.7v2.7h-2.7zM56.7 10.8h2.7v2.7h-2.7zM67.5 10.8h2.7v2.7h-2.7zM94.5 10.8h2.7v2.7h-2.7zM2.7 13.5h2.7v2.7h-2.7zM32.4 13.5h2.7v2.7h-2.7zM45.9 13.5h2.7v2.7h-2.7zM62.1 13.5h2.7v2.7h-2.7zM81 13.5h2.7v2.7h-2.7zM54 16.2h2.7v2.7h-2.7zM67.5 16.2h2.7v2.7h-2.7zM75.6 16.2h2.7v2.7h-2.7zM86.4 18.9h2.7v2.7h-2.7zM10.8 21.6h2.7v2.7h-2.7zM51.3 21.6h2.7v2.7h-2.7zM5.4 24.3h2.7v2.7h-2.7zM21.6 24.3h2.7v2.7h-2.7zM27 24.3h2.7v2.7h-2.7zM40.5 24.3h2.7v2.7h-2.7zM67.5 24.3h2.7v2.7h-2.7zM81 24.3h2.7v2.7h-2.7zM89.1 24.3h2.7v2.7h-2.7zM13.5 29.7h2.7v2.7h-2.7zM37.8 29.7h2.7v2.7h-2.7zM51.3 29.7h2.7v2.7h-2.7zM56.7 29.7h2.7v2.7h-2.7zM75.6 29.7h2.7v2.7h-2.7zM91.8 29.7h2.7v2.7h-2.7zM29.7 35.1h2.7v2.7h-2.7zM62.1 35.1h2.7v2.7h-2.7zM5.4 37.8h2.7v2.7h-2.7zM37.8 37.8h2.7v2.7h-2.7zM89.1 37.8h2.7v2.7h-2.7zM45.9 40.5h2.7v2.7h-2.7zM62.1 40.5h2.7v2.7h-2.7zM70.2 40.5h2.7v2.7h-2.7zM10.8 43.2h2.7v2.7h-2.7zM27 43.2h2.7v2.7h-2.7zM86.4 43.2h2.7v2.7h-2.7zM2.7 45.9h2.7v2.7h-2.7zM18.9 45.9h2.7v2.7h-2.7zM40.5 45.9h2.7v2.7h-2.7zM56.7 45.9h2.7v2.7h-2.7zM70.2 45.9h2.7v2.7h-2.7zM8.1 48.6h2.7v2.7h-2.7zM62.1 48.6h2.7v2.7h-2.7zM89.1 51.3h2.7v2.7h-2.7zM32.4 54h2.7v2.7h-2.7zM72.9 54h2.7v2.7h-2.7zM94.5 54h2.7v2.7h-2.7zM18.9 56.7h2.7v2.7h-2.7zM40.5 56.7h2.7v2.7h-2.7zM51.3 56.7h2.7v2.7h-2.7zM59.4 56.7h2.7v2.7h-2.7zM5.4 59.4h2.7v2.7h-2.7zM29.7 59.4h2.7v2.7h-2.7zM64.8 59.4h2.7v2.7h-2.7zM75.6 59.4h2.7v2.7h-2.7zM16.2 62.1h2.7v2.7h-2.7zM35.1 62.1h2.7v2.7h-2.7zM81 62.1h2.7v2.7h-2.7zM94.5 62.1h2.7v2.7h-2.7zM2.7 64.8h2.7v2.7h-2.7zM27 64.8h2.7v2.7h-2.7zM51.3 64.8h2.7v2.7h-2.7zM67.5 64.8h2.7v2.7h-2.7zM72.9 64.8h2.7v2.7h-2.7zM78.3 67.5h2.7v2.7h-2.7zM83.7 67.5h2.7v2.7h-2.7zM21.6 70.2h2.7v2.7h-2.7zM32.4 70.2h2.7v2.7h-2.7zM43.2 70.2h2.7v2.7h-2.7zM48.6 70.2h2.7v2.7h-2.7zM59.4 70.2h2.7v2.7h-2.7zM16.2 72.9h2.7v2.7h-2.7zM89.1 72.9h2.7v2.7h-2.7zM2.7 75.6h2.7v2.7h-2.7zM29.7 75.6h2.7v2.7h-2.7zM59.4 75.6h2.7v2.7h-2.7zM64.8 75.6h2.7v2.7h-2.7zM51.3 78.3h2.7v2.7h-2.7zM89.1 78.3h2.7v2.7h-2.7zM8.1 81h2.7v2.7h-2.7zM56.7 81h2.7v2.7h-2.7zM18.9 83.7h2.7v2.7h-2.7zM8.1 86.4h2.7v2.7h-2.7zM35.1 86.4h2.7v2.7h-2.7zM56.7 86.4h2.7v2.7h-2.7zM70.2 86.4h2.7v2.7h-2.7zM43.2 89.1h2.7v2.7h-2.7zM94.5 89.1h2.7v2.7h-2.7zM18.9 91.8h2.7v2.7h-2.7zM35.1 91.8h2.7v2.7h-2.7zM59.4 91.8h2.7v2.7h-2.7zM72.9 91.8h2.7v2.7h-2.7zM83.7 91.8h2.7v2.7h-2.7zM89.1 91.8h2.7v2.7h-2.7zM10.8 94.5h2.7v2.7h-2.7zM24.3 94.5h2.7v2.7h-2.7z"/><path fill="#6c12cc" d="M89.1 0h2.7v2.7h-2.7zM24.3 13.5h2.7v2.7h-2.7zM37.8 16.2h2.7v2.7h-2.7zM16.2 18.9h2.7v2.7h-2.7zM27 18.9h2.7v2.7h-2.7zM24.3 32.4h2.7v2.7h-2.7zM0 35.1h2.7v2.7h-2.7zM83.7 37.8h2.7v2.7h-2.7zM13.5 51.3h2.7v2.7h-2.7zM10.8 62.1h2.7v2.7h-2.7zM37.8 70.2h2.7v2.7h-2.7zM75.6 75.6h2.7v2.7h-2.7zM62.1 83.7h2.7v2.7h-2.7z"/><path fill="#9044fc" d="M45.9 0h2.7v2.7h-2.7zM94.5 0h2.7v2.7h-2.7zM32.4 2.7h2.7v2.7h-2.7zM86.4 8.1h2.7v2.7h-2.7zM75.6 10.8h2.7v2.7h-2.7zM21.6 18.9h2.7v2.7h-2.7zM62.1 21.6h2.7v2.7h-2.7zM18.9 29.7h2.7v2.7h-2.7zM35.1 48.6h2.7v2.7h-2.7zM75.6 48.6h2.7v2.7h-2.7zM83.7 48.6h2.7v2.7h-2.7zM21.6 51.3h2.7v2.7h-2.7zM27 51.3h2.7v2.7h-2.7zM2.7 54h2.7v2.7h-2.7zM64.8 54h2.7v2.7h-2.7zM78.3 54h2.7v2.7h-2.7zM83.7 54h2.7v2.7h-2.7zM13.5 56.7h2.7v2.7h-2.7zM56.7 62.1h2.7v2.7h-2.7zM8.1 70.2h2.7v2.7h-2.7zM24.3 75.6h2.7v2.7h-2.7zM40.5 75.6h2.7v2.7h-2.7zM83.7 75.6h2.7v2.7h-2.7zM40.5 81h2.7v2.7h-2.7zM13.5 86.4h2.7v2.7h-2.7zM48.6 86.4h2.7v2.7h-2.7zM75.6 86.4h2.7v2.7h-2.7zM24.3 89.1h2.7v2.7h-2.7zM40.5 94.5h2.7v2.7h-2.7zM67.5 94.5h2.7v2.7h-2.7z"/></pattern>
<pattern id="pBG" patternUnits="userSpaceOnUse" width="129.6" height="129.6"><rect width="129.6" height="129.6" fill="#ffffff"/><path fill="#eaf3e2" d="M32.4 0h2.7v2.7h-2.7zM105.3 0h2.7v2.7h-2.7zM5.4 2.7h2.7v2.7h-2.7zM16.2 2.7h2.7v2.7h-2.7zM62.1 2.7h2.7v2.7h-2.7zM94.5 2.7h2.7v2.7h-2.7zM116.1 2.7h2.7v2.7h-2.7zM40.5 5.4h2.7v2.7h-2.7zM48.6 5.4h2.7v2.7h-2.7zM78.3 5.4h2.7v2.7h-2.7zM89.1 5.4h2.7v2.7h-2.7zM102.6 8.1h2.7v2.7h-2.7zM113.4 8.1h2.7v2.7h-2.7zM126.9 10.8h2.7v2.7h-2.7zM2.7 13.5h2.7v2.7h-2.7zM18.9 13.5h2.7v2.7h-2.7zM56.7 16.2h2.7v2.7h-2.7zM86.4 16.2h2.7v2.7h-2.7zM124.2 16.2h2.7v2.7h-2.7zM40.5 18.9h2.7v2.7h-2.7zM48.6 18.9h2.7v2.7h-2.7zM72.9 18.9h2.7v2.7h-2.7zM27 21.6h2.7v2.7h-2.7zM18.9 24.3h2.7v2.7h-2.7zM51.3 24.3h2.7v2.7h-2.7zM70.2 24.3h2.7v2.7h-2.7zM121.5 24.3h2.7v2.7h-2.7zM64.8 27h2.7v2.7h-2.7zM81 27h2.7v2.7h-2.7zM59.4 29.7h2.7v2.7h-2.7zM18.9 32.4h2.7v2.7h-2.7zM51.3 32.4h2.7v2.7h-2.7zM121.5 32.4h2.7v2.7h-2.7zM59.4 35.1h2.7v2.7h-2.7zM118.8 37.8h2.7v2.7h-2.7zM29.7 40.5h2.7v2.7h-2.7zM75.6 40.5h2.7v2.7h-2.7zM81 40.5h2.7v2.7h-2.7zM18.9 43.2h2.7v2.7h-2.7zM37.8 43.2h2.7v2.7h-2.7zM89.1 43.2h2.7v2.7h-2.7zM105.3 43.2h2.7v2.7h-2.7zM2.7 48.6h2.7v2.7h-2.7zM13.5 48.6h2.7v2.7h-2.7zM35.1 48.6h2.7v2.7h-2.7zM97.2 48.6h2.7v2.7h-2.7zM110.7 48.6h2.7v2.7h-2.7zM45.9 51.3h2.7v2.7h-2.7zM29.7 54h2.7v2.7h-2.7zM54 54h2.7v2.7h-2.7zM0 56.7h2.7v2.7h-2.7zM105.3 56.7h2.7v2.7h-2.7zM13.5 59.4h2.7v2.7h-2.7zM51.3 59.4h2.7v2.7h-2.7zM110.7 59.4h2.7v2.7h-2.7zM40.5 64.8h2.7v2.7h-2.7zM64.8 64.8h2.7v2.7h-2.7zM13.5 67.5h2.7v2.7h-2.7zM54 67.5h2.7v2.7h-2.7zM48.6 72.9h2.7v2.7h-2.7zM113.4 72.9h2.7v2.7h-2.7zM124.2 72.9h2.7v2.7h-2.7zM29.7 78.3h2.7v2.7h-2.7zM43.2 78.3h2.7v2.7h-2.7zM86.4 78.3h2.7v2.7h-2.7zM97.2 78.3h2.7v2.7h-2.7zM126.9 78.3h2.7v2.7h-2.7zM48.6 81h2.7v2.7h-2.7zM121.5 81h2.7v2.7h-2.7zM32.4 83.7h2.7v2.7h-2.7zM78.3 83.7h2.7v2.7h-2.7zM91.8 83.7h2.7v2.7h-2.7zM56.7 86.4h2.7v2.7h-2.7zM70.2 86.4h2.7v2.7h-2.7zM24.3 89.1h2.7v2.7h-2.7zM91.8 89.1h2.7v2.7h-2.7zM108 89.1h2.7v2.7h-2.7zM124.2 89.1h2.7v2.7h-2.7zM0 91.8h2.7v2.7h-2.7zM37.8 91.8h2.7v2.7h-2.7zM75.6 91.8h2.7v2.7h-2.7zM116.1 91.8h2.7v2.7h-2.7zM16.2 94.5h2.7v2.7h-2.7zM10.8 97.2h2.7v2.7h-2.7zM35.1 97.2h2.7v2.7h-2.7zM64.8 97.2h2.7v2.7h-2.7zM18.9 99.9h2.7v2.7h-2.7zM43.2 99.9h2.7v2.7h-2.7zM5.4 102.6h2.7v2.7h-2.7zM81 102.6h2.7v2.7h-2.7zM18.9 105.3h2.7v2.7h-2.7zM35.1 105.3h2.7v2.7h-2.7zM91.8 105.3h2.7v2.7h-2.7zM67.5 108h2.7v2.7h-2.7zM72.9 108h2.7v2.7h-2.7zM86.4 110.7h2.7v2.7h-2.7zM94.5 110.7h2.7v2.7h-2.7zM110.7 110.7h2.7v2.7h-2.7zM59.4 113.4h2.7v2.7h-2.7zM64.8 113.4h2.7v2.7h-2.7zM105.3 113.4h2.7v2.7h-2.7zM21.6 116.1h2.7v2.7h-2.7zM51.3 116.1h2.7v2.7h-2.7zM2.7 118.8h2.7v2.7h-2.7zM35.1 118.8h2.7v2.7h-2.7zM110.7 118.8h2.7v2.7h-2.7zM126.9 118.8h2.7v2.7h-2.7zM54 121.5h2.7v2.7h-2.7zM118.8 121.5h2.7v2.7h-2.7zM67.5 124.2h2.7v2.7h-2.7zM18.9 126.9h2.7v2.7h-2.7zM24.3 126.9h2.7v2.7h-2.7zM81 126.9h2.7v2.7h-2.7zM86.4 126.9h2.7v2.7h-2.7zM91.8 126.9h2.7v2.7h-2.7z"/><path fill="#fdf2fd" d="M10.8 0h2.7v2.7h-2.7zM51.3 0h2.7v2.7h-2.7zM0 2.7h2.7v2.7h-2.7zM124.2 2.7h2.7v2.7h-2.7zM35.1 8.1h2.7v2.7h-2.7zM59.4 8.1h2.7v2.7h-2.7zM97.2 8.1h2.7v2.7h-2.7zM64.8 10.8h2.7v2.7h-2.7zM37.8 13.5h2.7v2.7h-2.7zM48.6 13.5h2.7v2.7h-2.7zM99.9 13.5h2.7v2.7h-2.7zM2.7 18.9h2.7v2.7h-2.7zM18.9 18.9h2.7v2.7h-2.7zM97.2 18.9h2.7v2.7h-2.7zM64.8 21.6h2.7v2.7h-2.7zM108 21.6h2.7v2.7h-2.7zM116.1 21.6h2.7v2.7h-2.7zM97.2 24.3h2.7v2.7h-2.7zM5.4 27h2.7v2.7h-2.7zM27 27h2.7v2.7h-2.7zM10.8 29.7h2.7v2.7h-2.7zM27 32.4h2.7v2.7h-2.7zM37.8 32.4h2.7v2.7h-2.7zM67.5 32.4h2.7v2.7h-2.7zM16.2 37.8h2.7v2.7h-2.7zM126.9 37.8h2.7v2.7h-2.7zM64.8 43.2h2.7v2.7h-2.7zM70.2 43.2h2.7v2.7h-2.7zM8.1 45.9h2.7v2.7h-2.7zM45.9 45.9h2.7v2.7h-2.7zM56.7 45.9h2.7v2.7h-2.7zM40.5 48.6h2.7v2.7h-2.7zM64.8 48.6h2.7v2.7h-2.7zM91.8 48.6h2.7v2.7h-2.7zM126.9 48.6h2.7v2.7h-2.7zM8.1 51.3h2.7v2.7h-2.7zM18.9 51.3h2.7v2.7h-2.7zM70.2 51.3h2.7v2.7h-2.7zM78.3 51.3h2.7v2.7h-2.7zM13.5 54h2.7v2.7h-2.7zM35.1 54h2.7v2.7h-2.7zM18.9 56.7h2.7v2.7h-2.7zM86.4 56.7h2.7v2.7h-2.7zM91.8 56.7h2.7v2.7h-2.7zM62.1 59.4h2.7v2.7h-2.7zM0 62.1h2.7v2.7h-2.7zM5.4 62.1h2.7v2.7h-2.7zM32.4 62.1h2.7v2.7h-2.7zM56.7 62.1h2.7v2.7h-2.7zM75.6 62.1h2.7v2.7h-2.7zM97.2 62.1h2.7v2.7h-2.7zM24.3 64.8h2.7v2.7h-2.7zM118.8 64.8h2.7v2.7h-2.7zM8.1 67.5h2.7v2.7h-2.7zM102.6 67.5h2.7v2.7h-2.7zM108 67.5h2.7v2.7h-2.7zM126.9 67.5h2.7v2.7h-2.7zM94.5 70.2h2.7v2.7h-2.7zM8.1 72.9h2.7v2.7h-2.7zM62.1 72.9h2.7v2.7h-2.7zM83.7 72.9h2.7v2.7h-2.7zM18.9 75.6h2.7v2.7h-2.7zM35.1 75.6h2.7v2.7h-2.7zM54 75.6h2.7v2.7h-2.7zM105.3 75.6h2.7v2.7h-2.7zM24.3 78.3h2.7v2.7h-2.7zM62.1 78.3h2.7v2.7h-2.7zM70.2 78.3h2.7v2.7h-2.7zM110.7 78.3h2.7v2.7h-2.7zM56.7 81h2.7v2.7h-2.7zM8.1 83.7h2.7v2.7h-2.7zM108 83.7h2.7v2.7h-2.7zM0 86.4h2.7v2.7h-2.7zM16.2 86.4h2.7v2.7h-2.7zM51.3 86.4h2.7v2.7h-2.7zM97.2 86.4h2.7v2.7h-2.7zM102.6 86.4h2.7v2.7h-2.7zM5.4 89.1h2.7v2.7h-2.7zM43.2 89.1h2.7v2.7h-2.7zM62.1 91.8h2.7v2.7h-2.7zM102.6 91.8h2.7v2.7h-2.7zM48.6 94.5h2.7v2.7h-2.7zM94.5 94.5h2.7v2.7h-2.7zM29.7 97.2h2.7v2.7h-2.7zM105.3 97.2h2.7v2.7h-2.7zM113.4 97.2h2.7v2.7h-2.7zM126.9 97.2h2.7v2.7h-2.7zM54 102.6h2.7v2.7h-2.7zM121.5 102.6h2.7v2.7h-2.7zM0 105.3h2.7v2.7h-2.7zM29.7 105.3h2.7v2.7h-2.7zM45.9 105.3h2.7v2.7h-2.7zM62.1 105.3h2.7v2.7h-2.7zM99.9 105.3h2.7v2.7h-2.7zM116.1 105.3h2.7v2.7h-2.7zM13.5 108h2.7v2.7h-2.7zM124.2 108h2.7v2.7h-2.7zM18.9 110.7h2.7v2.7h-2.7zM40.5 110.7h2.7v2.7h-2.7zM78.3 110.7h2.7v2.7h-2.7zM13.5 113.4h2.7v2.7h-2.7zM29.7 113.4h2.7v2.7h-2.7zM116.1 116.1h2.7v2.7h-2.7zM78.3 118.8h2.7v2.7h-2.7zM27 121.5h2.7v2.7h-2.7zM97.2 121.5h2.7v2.7h-2.7zM13.5 124.2h2.7v2.7h-2.7zM37.8 126.9h2.7v2.7h-2.7zM75.6 126.9h2.7v2.7h-2.7z"/><path fill="#ebf3fd" d="M72.9 2.7h2.7v2.7h-2.7zM29.7 5.4h2.7v2.7h-2.7zM10.8 10.8h2.7v2.7h-2.7zM70.2 10.8h2.7v2.7h-2.7zM86.4 10.8h2.7v2.7h-2.7zM81 16.2h2.7v2.7h-2.7zM105.3 16.2h2.7v2.7h-2.7zM91.8 18.9h2.7v2.7h-2.7zM0 27h2.7v2.7h-2.7zM91.8 27h2.7v2.7h-2.7zM113.4 27h2.7v2.7h-2.7zM102.6 29.7h2.7v2.7h-2.7zM86.4 32.4h2.7v2.7h-2.7zM5.4 35.1h2.7v2.7h-2.7zM91.8 35.1h2.7v2.7h-2.7zM51.3 40.5h2.7v2.7h-2.7zM113.4 40.5h2.7v2.7h-2.7zM2.7 43.2h2.7v2.7h-2.7zM78.3 45.9h2.7v2.7h-2.7zM121.5 45.9h2.7v2.7h-2.7zM83.7 48.6h2.7v2.7h-2.7zM116.1 48.6h2.7v2.7h-2.7zM40.5 54h2.7v2.7h-2.7zM110.7 54h2.7v2.7h-2.7zM24.3 56.7h2.7v2.7h-2.7zM124.2 62.1h2.7v2.7h-2.7zM91.8 64.8h2.7v2.7h-2.7zM75.6 67.5h2.7v2.7h-2.7zM29.7 70.2h2.7v2.7h-2.7zM72.9 72.9h2.7v2.7h-2.7zM118.8 72.9h2.7v2.7h-2.7zM78.3 75.6h2.7v2.7h-2.7zM18.9 81h2.7v2.7h-2.7zM102.6 81h2.7v2.7h-2.7zM62.1 86.4h2.7v2.7h-2.7zM10.8 91.8h2.7v2.7h-2.7zM24.3 94.5h2.7v2.7h-2.7zM121.5 97.2h2.7v2.7h-2.7zM48.6 99.9h2.7v2.7h-2.7zM70.2 99.9h2.7v2.7h-2.7zM86.4 99.9h2.7v2.7h-2.7zM24.3 102.6h2.7v2.7h-2.7zM105.3 108h2.7v2.7h-2.7zM51.3 110.7h2.7v2.7h-2.7zM0 113.4h2.7v2.7h-2.7zM5.4 113.4h2.7v2.7h-2.7zM89.1 116.1h2.7v2.7h-2.7zM32.4 124.2h2.7v2.7h-2.7zM43.2 124.2h2.7v2.7h-2.7zM59.4 124.2h2.7v2.7h-2.7zM0 126.9h2.7v2.7h-2.7zM5.4 126.9h2.7v2.7h-2.7z"/></pattern>
</defs>
<rect x="0" y="0" width="2139" height="1822" fill="url(#pBG)"/>
<g id="bars">
<rect x="318" y="358" width="76.5" height="1206.2" fill="url(#pI1)"/>
<rect x="343" y="338.8" width="30" height="2.5" fill="#a4dcf4"/>
<rect x="356.75" y="338.8" width="2.5" height="19.7" fill="#a4dcf4"/>
<rect x="392" y="854.7" width="79" height="709.5" fill="url(#pI2)"/>
<rect x="430.15" y="840.8" width="2.5" height="14.4" fill="#70ccf6"/>
<rect x="466" y="1310.3" width="73.4" height="253.9" fill="url(#pI3)"/>
<rect x="490.4" y="1307.5" width="29.5" height="3.3" fill="#4cbcfc"/>
<rect x="539.3" y="221.6" width="79.1" height="1342.6" fill="url(#pII1)"/>
<rect x="564" y="219.1" width="30" height="3" fill="#dcb8fc"/>
<rect x="615.9" y="704.5" width="76.3" height="859.7" fill="url(#pII2)"/>
<rect x="637.7" y="696.2" width="29.9" height="2.5" fill="#ac60f8"/>
<rect x="650.95" y="696.2" width="2.5" height="8.8" fill="#ac60f8"/>
<rect x="689.5" y="1135.7" width="76.4" height="428.5" fill="url(#pII3)"/>
<rect x="711.4" y="1116.6" width="32.6" height="2.5" fill="#8a2af2"/>
<rect x="875.1" y="276.2" width="76.4" height="1288" fill="url(#pI1)"/>
<rect x="899.6" y="262.5" width="27.4" height="2.5" fill="#a4dcf4"/>
<rect x="910.85" y="262.5" width="2.5" height="14.2" fill="#a4dcf4"/>
<rect x="948.9" y="792.1" width="76.1" height="772.1" fill="url(#pI2)"/>
<rect x="970.9" y="789.4" width="32.5" height="3.2" fill="#84d4fa"/>
<rect x="1022.6" y="1280.2" width="73.5" height="284" fill="url(#pI3)"/>
<rect x="1046.9" y="1272" width="30.1" height="2.5" fill="#22aaf2"/>
<rect x="1096.3" y="186" width="78.7" height="1378.2" fill="url(#pII1)"/>
<rect x="1121" y="177.9" width="30" height="2.5" fill="#d2a8fa"/>
<rect x="1134.75" y="177.9" width="2.5" height="8.6" fill="#d2a8fa"/>
<rect x="1170" y="655.4" width="78.9" height="908.8" fill="url(#pII2)"/>
<rect x="1194.5" y="636.4" width="30.3" height="2.5" fill="#ac60f8"/>
<rect x="1208.05" y="636.4" width="2.5" height="19.5" fill="#ac60f8"/>
<rect x="1243.9" y="1067.4" width="78.9" height="496.8" fill="url(#pII3)"/>
<rect x="1281.95" y="1056.4" width="2.5" height="11.5" fill="#8a2af2"/>
<rect x="1429.3" y="211" width="79.3" height="1353.2" fill="url(#pI1)"/>
<rect x="1454" y="208.2" width="30" height="3.3" fill="#b0e4f8"/>
<rect x="1503.2" y="740.2" width="78.8" height="824" fill="url(#pI2)"/>
<rect x="1541.15" y="737" width="2.5" height="3.7" fill="#70ccf6"/>
<rect x="1576.9" y="1198.9" width="76" height="365.3" fill="url(#pI3)"/>
<rect x="1601.2" y="1168.5" width="30" height="2.5" fill="#22aaf2"/>
<rect x="1614.85" y="1168.5" width="2.5" height="30.9" fill="#22aaf2"/>
<rect x="1653.3" y="161.3" width="76.4" height="1402.9" fill="url(#pII1)"/>
<rect x="1727.1" y="540.9" width="76.1" height="1023.3" fill="url(#pII2)"/>
<rect x="1749.3" y="524.3" width="32.2" height="2.5" fill="#ac60f8"/>
<rect x="1800.8" y="1010.2" width="76.3" height="554" fill="url(#pII3)"/>
<rect x="1825.3" y="1002.2" width="29.7" height="2.5" fill="#8a2af2"/>
<rect x="1838.75" y="1002.2" width="2.5" height="8.5" fill="#8a2af2"/>
</g>
<g id="axes" fill="#000">
<rect x="236" y="82.2" width="1864.7" height="5.5"/>
<rect x="236" y="1561.5" width="1864.7" height="5.5"/>
<rect x="261" y="82.2" width="5.2" height="1484.8"/>
<rect x="2095.3" y="82.2" width="5.4" height="1484.8"/>
<rect x="236" y="377.85" width="26" height="5.3"/>
<rect x="236" y="673.85" width="26" height="5.3"/>
<rect x="236" y="969.85" width="26" height="5.3"/>
<rect x="236" y="1265.85" width="26" height="5.3"/>
<rect x="250" y="288.75" width="12" height="5.3"/>
<rect x="250" y="236.62" width="12" height="5.3"/>
<rect x="250" y="199.64" width="12" height="5.3"/>
<rect x="250" y="170.95" width="12" height="5.3"/>
<rect x="250" y="147.52" width="12" height="5.3"/>
<rect x="250" y="127.7" width="12" height="5.3"/>
<rect x="250" y="110.54" width="12" height="5.3"/>
<rect x="250" y="95.39" width="12" height="5.3"/>
<rect x="250" y="584.75" width="12" height="5.3"/>
<rect x="250" y="532.62" width="12" height="5.3"/>
<rect x="250" y="495.64" width="12" height="5.3"/>
<rect x="250" y="466.95" width="12" height="5.3"/>
<rect x="250" y="443.52" width="12" height="5.3"/>
<rect x="250" y="423.7" width="12" height="5.3"/>
<rect x="250" y="406.54" width="12" height="5.3"/>
<rect x="250" y="391.39" width="12" height="5.3"/>
<rect x="250" y="880.75" width="12" height="5.3"/>
<rect x="250" y="828.62" width="12" height="5.3"/>
<rect x="250" y="791.64" width="12" height="5.3"/>
<rect x="250" y="762.95" width="12" height="5.3"/>
<rect x="250" y="739.52" width="12" height="5.3"/>
<rect x="250" y="719.7" width="12" height="5.3"/>
<rect x="250" y="702.54" width="12" height="5.3"/>
<rect x="250" y="687.39" width="12" height="5.3"/>
<rect x="250" y="1176.75" width="12" height="5.3"/>
<rect x="250" y="1124.62" width="12" height="5.3"/>
<rect x="250" y="1087.64" width="12" height="5.3"/>
<rect x="250" y="1058.95" width="12" height="5.3"/>
<rect x="250" y="1035.52" width="12" height="5.3"/>
<rect x="250" y="1015.7" width="12" height="5.3"/>
<rect x="250" y="998.54" width="12" height="5.3"/>
<rect x="250" y="983.39" width="12" height="5.3"/>
<rect x="250" y="1472.75" width="12" height="5.3"/>
<rect x="250" y="1420.62" width="12" height="5.3"/>
<rect x="250" y="1383.64" width="12" height="5.3"/>
<rect x="250" y="1354.95" width="12" height="5.3"/>
<rect x="250" y="1331.52" width="12" height="5.3"/>
<rect x="250" y="1311.7" width="12" height="5.3"/>
<rect x="250" y="1294.54" width="12" height="5.3"/>
<rect x="250" y="1279.39" width="12" height="5.3"/>
<rect x="539.2" y="1565" width="5.6" height="28.6"/>
<rect x="1096.2" y="1565" width="5.6" height="28.6"/>
<rect x="1650.2" y="1565" width="5.6" height="28.6"/>
</g>
<g id="ylabels">
<text transform="translate(176.5,108.9) scale(1,1.045)" font-size="68" text-anchor="end">10</text><text x="176" y="80" font-size="46">-3</text>
<text transform="translate(176.5,404.9) scale(1,1.045)" font-size="68" text-anchor="end">10</text><text x="176" y="376" font-size="46">-4</text>
<text transform="translate(176.5,700.9) scale(1,1.045)" font-size="68" text-anchor="end">10</text><text x="176" y="672" font-size="46">-5</text>
<text transform="translate(176.5,996.9) scale(1,1.045)" font-size="68" text-anchor="end">10</text><text x="176" y="968" font-size="46">-6</text>
<text transform="translate(176.5,1292.9) scale(1,1.045)" font-size="68" text-anchor="end">10</text><text x="176" y="1264" font-size="46">-7</text>
<text transform="translate(176.5,1588.9) scale(1,1.045)" font-size="68" text-anchor="end">10</text><text x="176" y="1560" font-size="46">-8</text>
</g>
<g id="xlabels">
<text x="544" y="1668" font-size="70" text-anchor="middle">Silt A</text>
<text x="1098.3" y="1668" font-size="70" text-anchor="middle">Silt B</text>
<text x="1654.3" y="1668" font-size="70" text-anchor="middle">Silt C</text>
</g>
<text x="1182.5" y="1784" font-size="69.6" text-anchor="middle">Silt with different fine grain contents</text>
<text transform="translate(74.3,806.5) rotate(-90) scale(1,0.977)" font-size="69.5" text-anchor="middle">Permeability<tspan font-size="65" font-weight="300" dx="2.6" dy="3">（</tspan><tspan dx="6.7" dy="-3">cm/s</tspan><tspan font-size="65" font-weight="300" dx="-2.5" dy="9">）</tspan></text>
<g id="legend">
<rect x="1822.4" y="98.8" width="158.4" height="78.2" fill="url(#pI1)"/>
<text y="158.7" font-size="68" x="1997.04 2019.94 2041.25">I-1</text>
<rect x="1822.4" y="183.4" width="158.4" height="78.5" fill="url(#pI2)"/>
<text y="245.8" font-size="68" x="1996.64 2019.94 2042.08">I-2</text>
<rect x="1822.4" y="268.2" width="158.4" height="78.5" fill="url(#pI3)"/>
<text y="330.5" font-size="68" x="1997.14 2019.94 2041.4">I-3</text>
<rect x="1822.4" y="355.1" width="158.4" height="79" fill="url(#pII1)"/>
<text transform="translate(0,417.7) scale(1.2,1)" font-size="68" x="1662.48 1680.73">II</text><text y="417.7" font-size="68" x="2040.64 2063.55">-1</text>
<rect x="1822.4" y="439.8" width="158.4" height="78.9" fill="url(#pII2)"/>
<text transform="translate(0,502.5) scale(1.2,1)" font-size="68" x="1662.48 1680.73">II</text><text y="502.5" font-size="68" x="2040.64 2064.58">-2</text>
<rect x="1822.4" y="527" width="158.4" height="78.9" fill="url(#pII3)"/>
<text transform="translate(0,589.5) scale(1.2,1)" font-size="68" x="1662.48 1680.73">II</text><text y="589.5" font-size="68" x="2040.64 2063.3">-3</text>
</g>
</svg>
</body></html>
